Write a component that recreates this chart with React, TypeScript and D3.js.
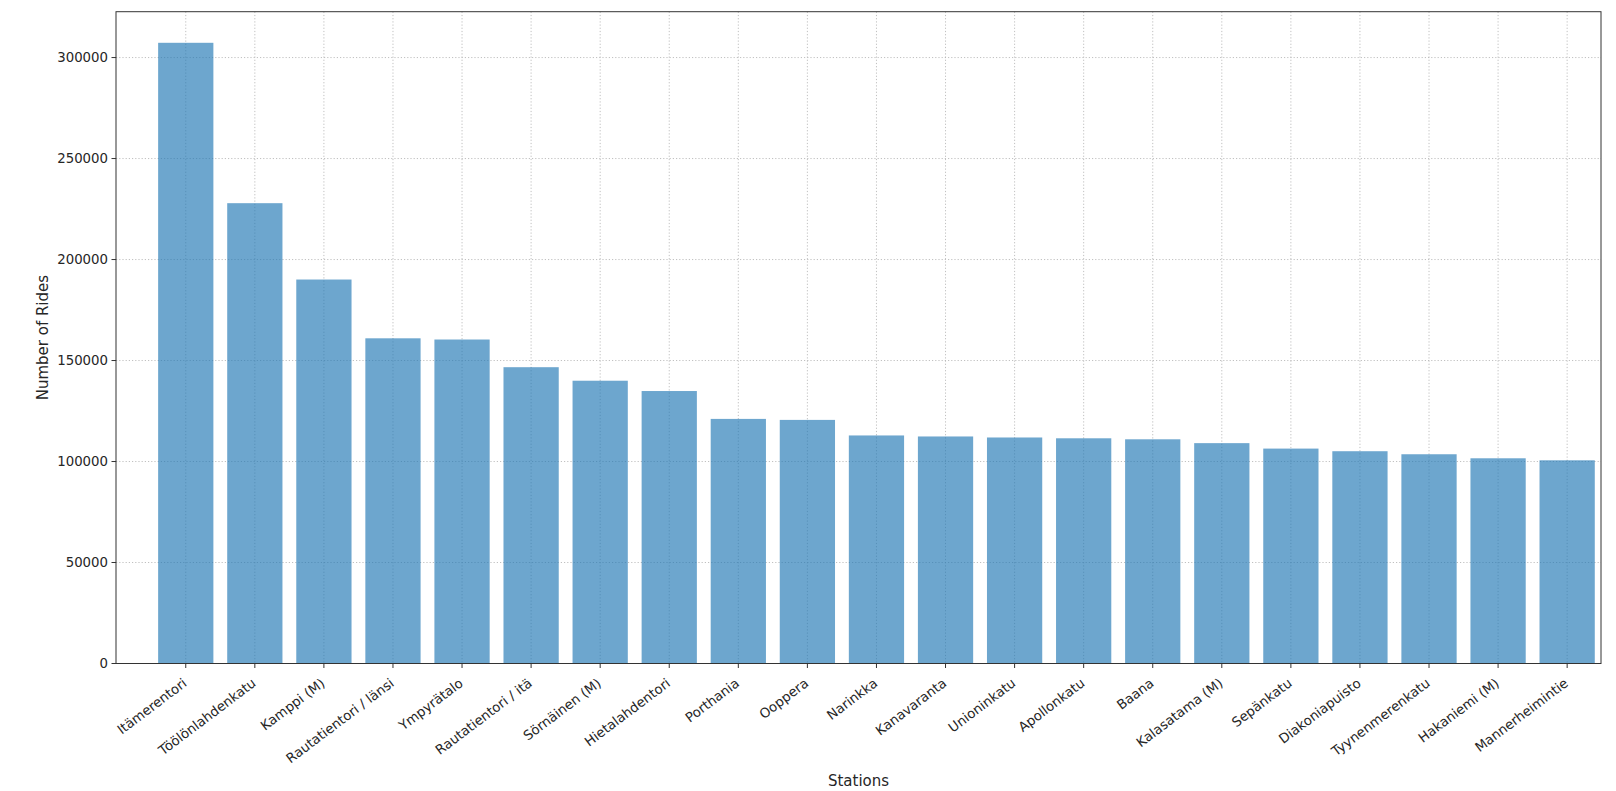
import { useEffect, useRef } from 'react';
import * as d3 from 'd3';

const stations = [
  'Itämerentori', 'Töölönlahdenkatu', 'Kamppi (M)', 'Rautatientori / länsi', 'Ympyrätalo',
  'Rautatientori / itä', 'Sörnäinen (M)', 'Hietalahdentori', 'Porthania', 'Ooppera',
  'Narinkka', 'Kanavaranta', 'Unioninkatu', 'Apollonkatu', 'Baana', 'Kalasatama (M)',
  'Sepänkatu', 'Diakoniapuisto', 'Tyynenmerenkatu', 'Hakaniemi (M)', 'Mannerheimintie',
];
const rides = [
  307300, 227900, 190100, 161000, 160400, 146700, 140000, 134900, 121100, 120600,
  112900, 112400, 111900, 111500, 111000, 109100, 106400, 105100, 103600, 101600, 100600,
];
const yTicks = [0, 50000, 100000, 150000, 200000, 250000, 300000];

const W = 1616;
const H = 791;
const FONT = 'DejaVu Sans, sans-serif';

export default function App() {
  const svgRef = useRef<SVGSVGElement>(null);

  useEffect(() => {
    document.body.style.margin = '0';
    if (!svgRef.current) return;
    const svg = d3.select(svgRef.current);
    svg.selectAll('*').remove();

    const left = 116, right = 1601, top = 11.7, bottom = 663.5;
    const x = d3.scaleLinear().domain([-1.01, stations.length - 0.51]).range([left, right]);
    const y = d3.scaleLinear().domain([0, 322700]).range([bottom, top]);
    const gridColor = '#b0b0b0';
    const textColor = '#262626';

    // grid
    const grid = svg.append('g');
    grid.selectAll('line.gy').data(yTicks).join('line')
      .attr('x1', left).attr('x2', right).attr('y1', d => y(d)).attr('y2', d => y(d))
      .attr('stroke', gridColor).attr('stroke-width', 0.8).attr('stroke-dasharray', '1.2,2');
    grid.selectAll('line.gx').data(stations.map((_, i) => i)).join('line')
      .attr('x1', d => x(d)).attr('x2', d => x(d)).attr('y1', top).attr('y2', bottom)
      .attr('stroke', gridColor).attr('stroke-width', 0.8).attr('stroke-dasharray', '1.2,2');

    // bars
    svg.append('g').selectAll('rect').data(rides).join('rect')
      .attr('x', (_, i) => x(i - 0.4))
      .attr('width', x(0.4) - x(-0.4))
      .attr('y', d => y(d))
      .attr('height', d => bottom - y(d))
      .attr('fill', '#1f77b4').attr('fill-opacity', 0.65);

    // frame
    svg.append('rect').attr('x', left).attr('y', top).attr('width', right - left).attr('height', bottom - top)
      .attr('fill', 'none').attr('stroke', '#333').attr('stroke-width', 1);

    // y ticks
    const yg = svg.append('g');
    yTicks.forEach(t => {
      yg.append('line').attr('x1', left - 4.5).attr('x2', left).attr('y1', y(t)).attr('y2', y(t))
        .attr('stroke', '#333').attr('stroke-width', 1);
      yg.append('text').attr('x', left - 8).attr('y', y(t)).attr('dy', '0.35em')
        .attr('text-anchor', 'end').attr('font-family', FONT).attr('font-size', 13.3)
        .attr('fill', textColor).text(String(t));
    });

    // x ticks
    const xg = svg.append('g');
    stations.forEach((s, i) => {
      const tx = x(i);
      xg.append('line').attr('x1', tx).attr('x2', tx).attr('y1', bottom).attr('y2', bottom + 4.5)
        .attr('stroke', '#333').attr('stroke-width', 1);
      const ax = tx + 2, ay = bottom + 21.5;
      xg.append('text').attr('transform', `translate(${ax},${ay}) rotate(-37)`)
        .attr('text-anchor', 'end').attr('font-family', FONT).attr('font-size', 13.3)
        .attr('fill', textColor).text(s);
    });

    // axis labels
    svg.append('text').attr('x', (left + right) / 2).attr('y', 786)
      .attr('text-anchor', 'middle').attr('font-family', FONT).attr('font-size', 15)
      .attr('fill', textColor).text('Stations');
    svg.append('text').attr('transform', `translate(48,${(top + bottom) / 2}) rotate(-90)`)
      .attr('text-anchor', 'middle').attr('font-family', FONT).attr('font-size', 15)
      .attr('fill', textColor).text('Number of Rides');
  }, []);

  return (
    <div style={{ position: 'fixed', left: 0, top: 0, background: '#fff' }}>
      <svg ref={svgRef} width={W} height={H} style={{ display: 'block' }} />
    </div>
  );
}
